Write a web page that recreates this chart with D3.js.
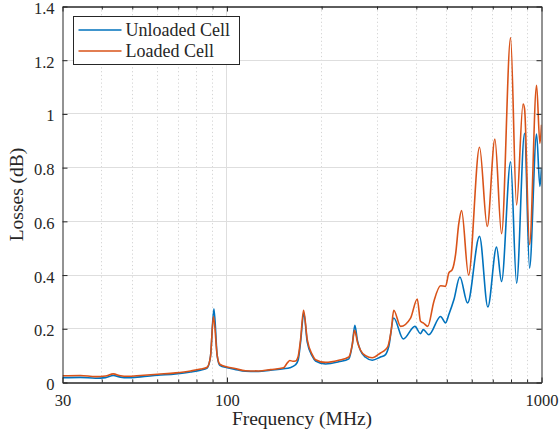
<!DOCTYPE html>
<html>
<head>
<meta charset="utf-8">
<script src="https://cdn.jsdelivr.net/npm/d3@7"></script>
<style>
	body { margin: 0; background: #fff; }
	svg { display: block; }
</style>
</head>
<body>
<div id="chart"></div>
<script>
// Data

// Unloaded cell: frequency (MHz) and losses (dB)
const unloadedFreq = [30, 34.2, 38.2, 41.1, 43.5, 45.9, 48.3, 53.1, 60.2, 68.6, 76.6, 82.4, 86.5, 88.6, 90.9, 93.1, 94.9,
	100.2, 106, 114.5, 126, 137.6, 151.3, 158.4, 165.2, 168.5, 171.4, 175.5, 180, 186.7, 191.3, 205.8, 226.7, 244.1,
	250.2, 255, 260, 265.9, 275.8, 289.7, 307.7, 319.3, 327, 339, 363.6, 395.8, 412.4, 420.8, 438.3, 477.7, 495.4,
	507.5, 526.5, 550.2, 582.1, 635.3, 675.2, 719.6, 746.5, 797.5, 833.2, 883.3, 916.2, 964.6, 988.2, 1000]
const unloadedLoss = [0.018, 0.019, 0.016, 0.018, 0.026, 0.020, 0.018, 0.021, 0.027, 0.032, 0.039, 0.046, 0.054, 0.095, 0.274, 0.100, 0.064,
	0.055, 0.049, 0.042, 0.041, 0.046, 0.051, 0.055, 0.066, 0.085, 0.150, 0.259, 0.150, 0.098, 0.080, 0.069, 0.077, 0.088,
	0.140, 0.213, 0.155, 0.118, 0.094, 0.083, 0.095, 0.104, 0.135, 0.240, 0.162, 0.209, 0.182, 0.197, 0.178, 0.246, 0.222,
	0.253, 0.308, 0.393, 0.296, 0.544, 0.281, 0.504, 0.376, 0.822, 0.370, 0.928, 0.426, 0.925, 0.730, 0.800]

// Loaded cell: frequency (MHz) and losses (dB)
const loadedFreq = [30, 34.2, 38.2, 41.1, 43.5, 45.9, 48.3, 53.1, 60.2, 68.6, 76.6, 82.4, 86.5, 88.6, 90.6, 93.1, 94.9,
	100.2, 106, 114.5, 126, 137.6, 151.3, 156, 158.4, 162, 165.2, 168.5, 171.4, 175.2, 180, 186.7, 191.3, 205.8, 226.7,
	244.1, 250.2, 254.5, 260, 265.9, 275.8, 289.7, 307.7, 319.3, 325, 333, 339, 356.4, 383.5, 402.7, 412.4, 420.8, 435,
	454.8, 477.7, 495.4, 507.5, 520.3, 533, 546, 557.1, 586.3, 635.3, 672.2, 710.8, 746.5, 797.5, 833.2, 873.7, 883.3,
	916.2, 964.6, 988.2, 1000]
const loadedLoss = [0.025, 0.026, 0.022, 0.024, 0.032, 0.025, 0.023, 0.026, 0.031, 0.036, 0.043, 0.050, 0.057, 0.095, 0.246, 0.100, 0.068,
	0.058, 0.052, 0.044, 0.043, 0.048, 0.055, 0.075, 0.082, 0.079, 0.080, 0.098, 0.160, 0.269, 0.160, 0.104, 0.085, 0.075, 0.083,
	0.095, 0.140, 0.194, 0.150, 0.120, 0.100, 0.092, 0.110, 0.123, 0.135, 0.197, 0.269, 0.209, 0.240, 0.311, 0.228, 0.222, 0.209,
	0.302, 0.360, 0.358, 0.408, 0.420, 0.476, 0.593, 0.640, 0.400, 0.876, 0.581, 0.906, 0.554, 1.283, 0.661, 1.037, 1.020,
	0.513, 1.107, 0.890, 0.960]

// Axis ticks and legend
const xTicks = [30, 100, 1000]
const yTicks = [0, 0.2, 0.4, 0.6, 0.8, 1, 1.2, 1.4]
const seriesNames = ["Unloaded Cell", "Loaded Cell"]
const seriesColors = ["#0072BD", "#D95319"]

const dims = {
	width: 559,
	height: 438,
	margin: { top: 6.5, right: 17.5, bottom: 55.5, left: 62.5 }
}
const fontFamily = '"Liberation Serif", "Times New Roman", serif'
const axisColor = "#262626"

function makePlot() {
	const svg = d3.select("#chart")
		.append("svg")
		.attr("width", dims.width)
		.attr("height", dims.height)

	const container = svg.append("g")
		.attr("transform", `translate(${dims.margin.left},${dims.margin.top})`)
	const w = dims.width - dims.margin.left - dims.margin.right
	const h = dims.height - dims.margin.top - dims.margin.bottom

	// Scales
	const xScale = d3.scaleLog()
		.domain([30, 1000])
		.range([0, w])
	const yScale = d3.scaleLinear()
		.domain([0, 1.4])
		.range([h, 0])

	// minor decades: 40..90, 200..900
	const minorTicks = xScale.ticks().filter((t) => !xTicks.includes(t))

	// Grid lines
	container.append("g").selectAll("line")
		.data(minorTicks)
		.join("line")
		.attr("x1", (d) => Math.round(xScale(d)))
		.attr("x2", (d) => Math.round(xScale(d)))
		.attr("y1", 0)
		.attr("y2", h)
		.attr("stroke", "#d4d4d4")
		.attr("stroke-width", 1)
		.attr("stroke-dasharray", "1.2,2.6")

	container.append("g").selectAll("line")
		.data(xTicks.slice(1, -1))
		.join("line")
		.attr("x1", (d) => Math.round(xScale(d)))
		.attr("x2", (d) => Math.round(xScale(d)))
		.attr("y1", 0)
		.attr("y2", h)
		.attr("stroke", "#dedede")

	container.append("g").selectAll("line")
		.data(yTicks.slice(1, -1))
		.join("line")
		.attr("x1", 0)
		.attr("x2", w)
		.attr("y1", (d) => Math.round(yScale(d)))
		.attr("y2", (d) => Math.round(yScale(d)))
		.attr("stroke", "#dedede")
		.attr("stroke-width", 1.2)

	// Clip lines to the axes box
	svg.append("clipPath")
		.attr("id", "clip")
		.append("rect")
		.attr("width", w)
		.attr("height", h)

	const line = d3.line()
		.x((d) => xScale(d[0]))
		.y((d) => yScale(d[1]))
		.curve(d3.curveMonotoneX)

	const series = [d3.zip(unloadedFreq, unloadedLoss), d3.zip(loadedFreq, loadedLoss)]

	container.append("g")
		.attr("clip-path", "url(#clip)")
		.selectAll("path")
		.data(series)
		.join("path")
		.attr("d", line)
		.attr("fill", "none")
		.attr("stroke", (d, i) => seriesColors[i])
		.attr("stroke-width", 1.6)
		.attr("stroke-linejoin", "round")

	// Axes (ticks point inwards, box on)
	const styleAxis = (g) => {
		g.attr("font-family", fontFamily)
			.attr("font-size", 16.5)
			.attr("color", axisColor)
		g.select(".domain").attr("stroke-width", 1)
	}

	container.append("g")
		.call(d3.axisLeft(yScale).tickValues(yTicks).tickSize(-5).tickSizeOuter(0).tickPadding(8)
			.tickFormat((d) => String(+d.toFixed(1))))
		.call(styleAxis)
		.selectAll("text")
		.attr("dy", "0.42em")

	container.append("g")
		.attr("transform", `translate(${w},0)`)
		.call(d3.axisRight(yScale).tickValues(yTicks).tickSize(-5).tickSizeOuter(0).tickFormat(""))
		.call(styleAxis)

	container.append("g")
		.attr("transform", `translate(0,${h})`)
		.call(d3.axisBottom(xScale).tickValues(xTicks).tickSize(-5).tickSizeOuter(0).tickPadding(11.5)
			.tickFormat(d3.format("d")))
		.call(styleAxis)

	container.append("g")
		.attr("transform", `translate(0,${h})`)
		.call(d3.axisBottom(xScale).tickValues(minorTicks).tickSize(-3).tickSizeOuter(0).tickFormat(""))
		.call(styleAxis)

	container.append("g")
		.call(d3.axisTop(xScale).tickValues(xTicks).tickSize(-5).tickSizeOuter(0).tickFormat(""))
		.call(styleAxis)

	container.append("g")
		.call(d3.axisTop(xScale).tickValues(minorTicks).tickSize(-3).tickSizeOuter(0).tickFormat(""))
		.call(styleAxis)

	// Axis labels
	container.append("text")
		.attr("x", w / 2)
		.attr("y", h + 42)
		.attr("text-anchor", "middle")
		.attr("font-family", fontFamily)
		.attr("font-size", 19.5)
		.attr("fill", axisColor)
		.text("Frequency (MHz)")

	container.append("text")
		.attr("transform", "rotate(-90)")
		.attr("x", -h / 2)
		.attr("y", -40)
		.attr("text-anchor", "middle")
		.attr("font-family", fontFamily)
		.attr("font-size", 19.5)
		.attr("fill", axisColor)
		.text("Losses (dB)")

	// Legend
	const legend = svg.append("g")
		.attr("transform", "translate(73.5,16.5)")

	legend.append("rect")
		.attr("width", 166)
		.attr("height", 48)
		.attr("fill", "#fff")
		.attr("stroke", axisColor)
		.attr("stroke-width", 1)

	const rows = legend.selectAll("g.row")
		.data(seriesNames)
		.join("g")
		.attr("class", "row")
		.attr("transform", (d, i) => `translate(0,${13.5 + i * 21})`)

	rows.append("line")
		.attr("x1", 5)
		.attr("x2", 48)
		.attr("stroke", (d, i) => seriesColors[i])
		.attr("stroke-width", 1.6)

	rows.append("text")
		.attr("x", 52)
		.attr("dy", "0.33em")
		.attr("font-family", fontFamily)
		.attr("font-size", 18)
		.attr("fill", axisColor)
		.text((d) => d)
}

makePlot()
</script>
</body>
</html>
